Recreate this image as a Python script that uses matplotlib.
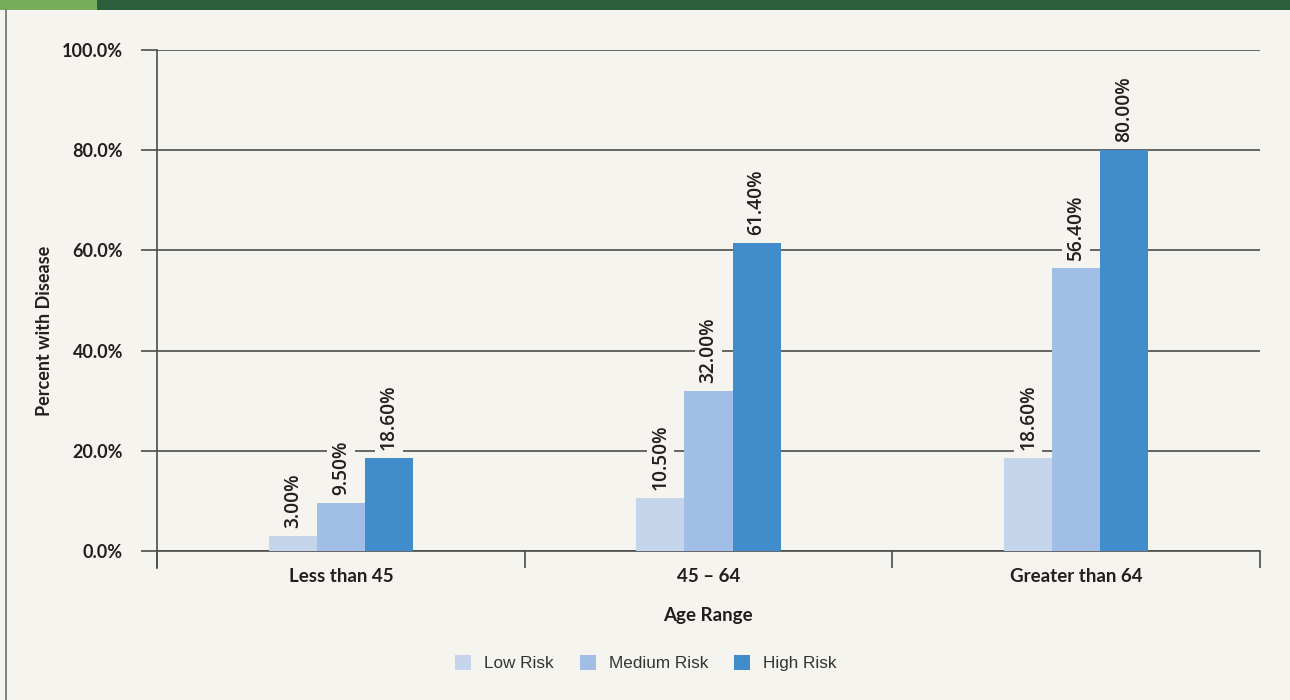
import matplotlib
matplotlib.use("Agg")
import matplotlib.pyplot as plt
import numpy as np
from matplotlib.patches import Rectangle
from matplotlib.lines import Line2D

categories = ["Less than 45", "45 – 64", "Greater than 64"]
series_names = ["Low Risk", "Medium Risk", "High Risk"]
low_risk = [3.00, 10.50, 18.60]
medium_risk = [9.50, 32.00, 56.40]
high_risk = [18.60, 61.40, 80.00]
y_ticks = [0, 20, 40, 60, 80, 100]
y_tick_labels = ["0.0%", "20.0%", "40.0%", "60.0%", "80.0%", "100.0%"]

colors = ["#C5D5EC", "#A1BFE6", "#418DCC"]
bg = "#F5F4EF"
text_col = "#231F20"

fig = plt.figure(figsize=(12.9, 7.0), dpi=100, facecolor=bg)

# top banner
fig.add_artist(Rectangle((0, 1 - 10/700), 97/1290, 10/700, transform=fig.transFigure,
                         facecolor="#78AD5B", edgecolor="none"))
fig.add_artist(Rectangle((97/1290, 1 - 10/700), 1 - 97/1290, 10/700, transform=fig.transFigure,
                         facecolor="#2B5E3B", edgecolor="none"))
# left border
fig.add_artist(Line2D([5.5/1290, 5.5/1290], [0, 1 - 10/700], transform=fig.transFigure,
                      color="#6E6E6E", lw=1.2))

ax = fig.add_axes([157/1290, 1 - 551/700, (1260 - 157)/1290, (551 - 50)/700])
ax.set_facecolor(bg)

x = np.arange(len(categories)) + 0.5
w = 48 / 367.0
all_series = [low_risk, medium_risk, high_risk]
for i, (vals, c, name) in enumerate(zip(all_series, colors, series_names)):
    xs = x + (i - 1) * w
    ax.bar(xs, vals, width=w, color=c, label=name, zorder=3)
    for xi, v in zip(xs, vals):
        ax.text(xi, v + 1.6, f"{v:.2f}%", rotation=90, ha="center", va="bottom",
                fontsize=13.8, family="Open Sans", fontweight="semibold", color=text_col, zorder=5,
                bbox=dict(boxstyle="square,pad=0.2", facecolor=bg, edgecolor="none"))

ax.set_xlim(0, 3)
ax.set_ylim(0, 100)
ax.set_yticks(y_ticks)
ax.set_yticklabels(y_tick_labels, fontsize=13, fontweight="bold", family="Lato", color=text_col)
ax.yaxis.grid(True, color="#4D4D4D", lw=1.2, zorder=1)
ax.set_xticks([0, 1, 2, 3])
ax.set_xticklabels([])
ax.set_xticks(x, minor=True)
ax.set_xticklabels(categories, minor=True, fontsize=13.5, fontweight="bold", family="Lato", color=text_col)
ax.tick_params(axis="x", which="minor", length=0, pad=12)
ax.tick_params(axis="x", which="major", length=12, width=1.2, color="#4D4D4D", direction="out")
ax.tick_params(axis="y", length=11.5, width=1.2, color="#4D4D4D", direction="out", pad=13)

for s in ["top", "right"]:
    ax.spines[s].set_visible(False)
for s in ["left", "bottom"]:
    ax.spines[s].set_color("#4D4D4D")
    ax.spines[s].set_linewidth(1.2)
ax.spines["left"].set_bounds(-3.4, 100)
ax.set_axisbelow(True)

fig.text(45/1290, 1 - 331/700, "Percent with Disease", rotation=90, ha="center", va="center",
         fontsize=13, fontweight="bold", family="Lato", color=text_col)
fig.text(708/1290, 1 - 615/700, "Age Range", ha="center", va="center",
         fontsize=13.5, fontweight="bold", family="Lato", color=text_col)

leg = fig.legend(loc="center", bbox_to_anchor=(646/1290, 1 - 663/700), ncol=3, frameon=False,
                 prop={"family": "Liberation Sans", "size": 12.3}, handlelength=0.95, handleheight=0.95,
                 columnspacing=1.52, handletextpad=0.75, labelcolor="#333333")

fig.savefig("out.png", dpi=100, facecolor=bg)
